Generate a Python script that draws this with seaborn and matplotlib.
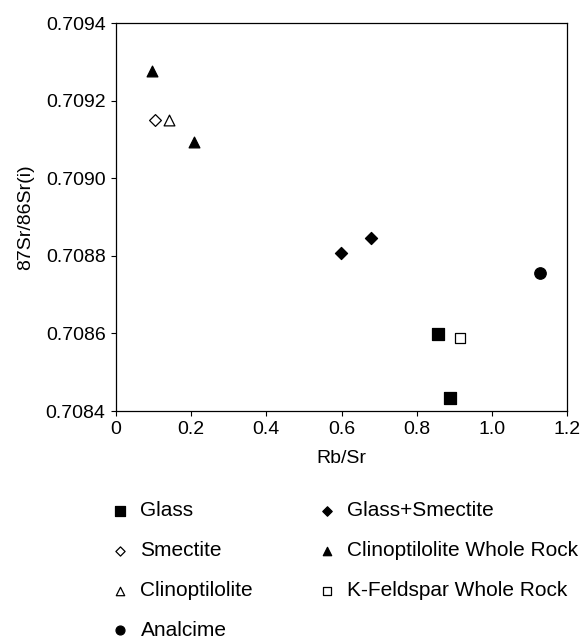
import matplotlib
matplotlib.use("Agg")
import matplotlib.pyplot as plt
import seaborn as sns
import pandas as pd

categories = ["Glass", "Glass", "Glass+Smectite", "Glass+Smectite", "Smectite",
              "Clinoptilolite Whole Rock", "Clinoptilolite Whole Rock",
              "Clinoptilolite", "K-Feldspar Whole Rock", "Analcime"]
rb_sr = [0.858, 0.888, 0.599, 0.678, 0.103, 0.095, 0.208, 0.141, 0.916, 1.129]
sr_ratio = [0.708598, 0.708434, 0.708808, 0.708845, 0.709150,
            0.709277, 0.709094, 0.709150, 0.708587, 0.708755]

legend_order = ["Glass", "Smectite", "Clinoptilolite", "Analcime",
                "Glass+Smectite", "Clinoptilolite Whole Rock", "K-Feldspar Whole Rock"]

styles = {
    "Glass": ("s", "black", 78),
    "Glass+Smectite": ("D", "black", 38),
    "Smectite": ("D", "white", 36),
    "Clinoptilolite Whole Rock": ("^", "black", 60),
    "Clinoptilolite": ("^", "white", 60),
    "K-Feldspar Whole Rock": ("s", "white", 58),
    "Analcime": ("o", "black", 68),
}

df = pd.DataFrame({"cat": categories, "x": rb_sr, "y": sr_ratio})

sns.set_style("ticks")
plt.rcParams["font.family"] = ["Liberation Sans", "DejaVu Sans"]
plt.rcParams["text.color"] = "black"
plt.rcParams["axes.labelcolor"] = "black"
plt.rcParams["xtick.color"] = "black"
plt.rcParams["ytick.color"] = "black"

fig = plt.figure(figsize=(5.87, 6.4), dpi=100)
ax = fig.add_axes([116 / 587, 1 - 411 / 640, (567 - 116) / 587, (411 - 23) / 640])

for cat in legend_order:
    m, fc, s = styles[cat]
    sub = df[df["cat"] == cat]
    sns.scatterplot(data=sub, x="x", y="y", marker=m, s=s, color=fc,
                    edgecolor="black", linewidth=0.9, ax=ax, label=cat, zorder=3)

ax.set_xlim(0, 1.2)
ax.set_ylim(0.7084, 0.7094)
ax.set_xticks([0, 0.2, 0.4, 0.6, 0.8, 1.0, 1.2])
ax.set_xticklabels(["0", "0.2", "0.4", "0.6", "0.8", "1.0", "1.2"])
ax.set_yticks([0.7084, 0.7086, 0.7088, 0.7090, 0.7092, 0.7094])
ax.set_yticklabels(["0.7084", "0.7086", "0.7088", "0.7090", "0.7092", "0.7094"])
ax.tick_params(labelsize=14, direction="out", length=3.5, width=0.8,
               colors="black", labelcolor="black", pad=4)
for sp in ax.spines.values():
    sp.set_visible(True)
    sp.set_color("black")
    sp.set_linewidth(0.9)
ax.set_xlabel("Rb/Sr", fontsize=14, labelpad=8, color="black")
ax.set_ylabel("87Sr/86Sr(i)", fontsize=14, labelpad=8, color="black")

handles, labels = ax.get_legend_handles_labels()
ax.get_legend().remove()
leg = fig.legend(handles, labels, ncol=2, loc="upper left", bbox_to_anchor=(0.152, 0.246),
                 frameon=False, fontsize=15, markerscale=0.78, handletextpad=0.36,
                 columnspacing=2.93, labelspacing=1.0, handlelength=1.2)
for t in leg.get_texts():
    t.set_color("black")

fig.savefig("out.png", dpi=100)
